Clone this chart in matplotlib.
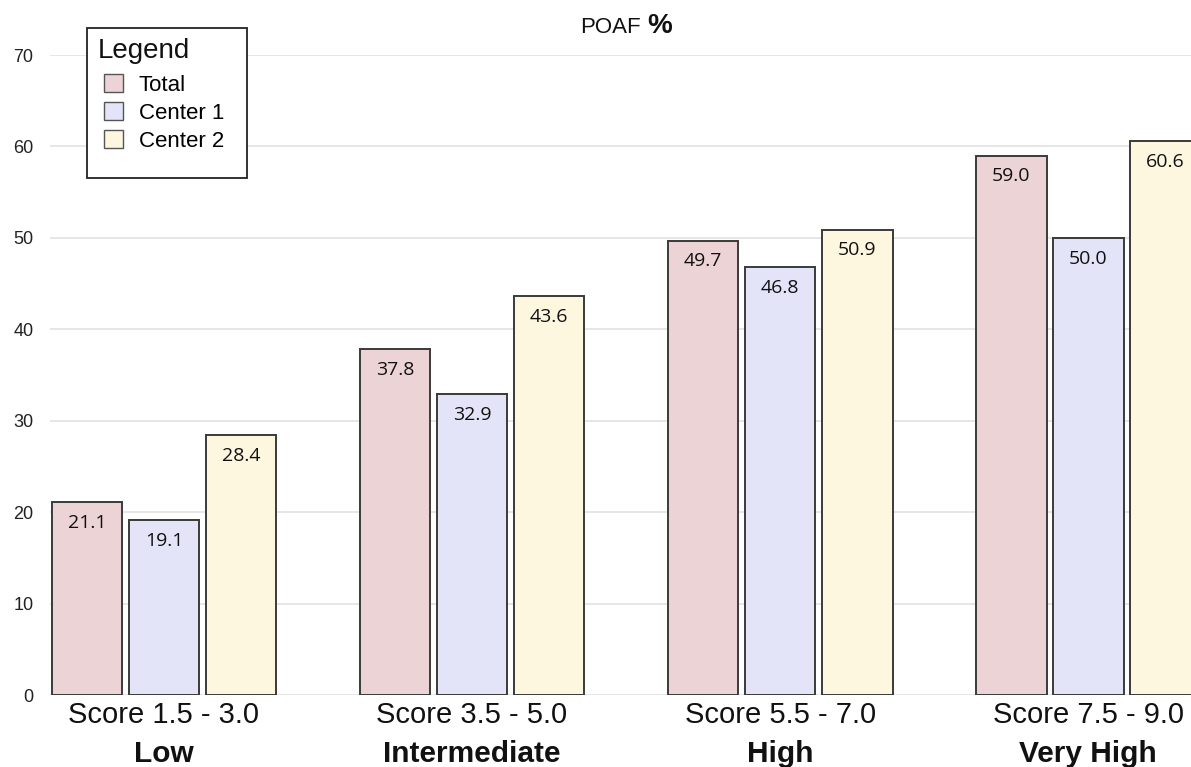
import matplotlib.pyplot as plt
import numpy as np
from matplotlib.patches import Patch, Rectangle

groups = ["Score 1.5 - 3.0", "Score 3.5 - 5.0", "Score 5.5 - 7.0", "Score 7.5 - 9.0"]
risk_levels = ["Low", "Intermediate", "High", "Very High"]
series_names = ["Total", "Center 1", "Center 2"]
total = [21.1, 37.8, 49.7, 59.0]
center1 = [19.1, 32.9, 46.8, 50.0]
center2 = [28.4, 43.6, 50.9, 60.6]
y_ticks = [0, 10, 20, 30, 40, 50, 60, 70]

colors = ["#ebd3d6", "#e3e4f7", "#fdf7e0"]
edge = "#3a3a3a"
W, H = 1191, 767

fig = plt.figure(figsize=(W / 100, H / 100), dpi=100)
ax = fig.add_axes([50 / W, 72 / H, 1141 / W, 640 / H])

x = np.arange(len(groups))
step = 0.25
width = 0.23
series = [total, center1, center2]
for k, (vals, col) in enumerate(zip(series, colors)):
    pos = x + (k - 1) * step
    ax.bar(pos, vals, width=width, color=col, edgecolor=edge, linewidth=1.4, zorder=3)
    for px, v in zip(pos, vals):
        ax.annotate(f"{v:.1f}", (px, v), xytext=(0, -8.5), textcoords="offset points",
                    ha="center", va="top", fontsize=14, family="Open Sans",
                    color="#111111", zorder=4)

ax.set_xlim(-0.37, 3.334)
ax.set_ylim(0, 70)
ax.set_yticks(y_ticks)
ax.set_yticklabels([str(t) for t in y_ticks], fontsize=13, family="Liberation Sans", color="#222222")
ax.tick_params(axis="y", length=0, pad=12)
ax.set_xticks([])
ax.grid(axis="y", color="#e2e2e2", linewidth=1.2, zorder=0)
for s in ax.spines.values():
    s.set_visible(False)

# two-line category labels: score range, then bold risk level
for xi, g, r in zip(x, groups, risk_levels):
    ax.annotate(g, (xi, 0), xycoords=("data", "axes fraction"), xytext=(0, -20.5),
                textcoords="offset points", ha="center", va="baseline",
                fontsize=21, family="Liberation Sans", color="#111111", annotation_clip=False)
    ax.annotate(r, (xi, 0), xycoords=("data", "axes fraction"), xytext=(0, -48.5),
                textcoords="offset points", ha="center", va="baseline",
                fontsize=21.5, fontweight="bold", family="Liberation Sans", color="#111111",
                annotation_clip=False)

# title: "POAF" regular, "%" bold
fig.text(580 / W, 1 - 33 / H, "POAF", ha="left", va="baseline", fontsize=16,
         family="Liberation Sans", color="#111111")
fig.text(647 / W, 1 - 33 / H, "%", ha="left", va="baseline", fontsize=20,
         fontweight="bold", family="Liberation Sans", color="#111111")

# legend box with heading
fig.patches.append(Rectangle((87 / W, 1 - 178 / H), 160 / W, 150 / H, transform=fig.transFigure,
                             facecolor="white", edgecolor="#222222", linewidth=1.3, zorder=5))
fig.text(98 / W, 1 - 58 / H, "Legend", ha="left", va="baseline", fontsize=20,
         family="Liberation Sans", color="#111111", zorder=6)
handles = [Patch(facecolor=c, edgecolor="#555555", linewidth=1.0) for c in colors]
leg = fig.legend(handles, series_names, loc="upper left",
                 bbox_to_anchor=(104 / W, 1 - 74 / H), bbox_transform=fig.transFigure,
                 prop={"family": "Liberation Sans", "size": 16}, frameon=False,
                 handlelength=0.85, handleheight=0.85, handletextpad=0.72, labelspacing=0.3,
                 borderpad=0, borderaxespad=0)
leg.set_zorder(6)

fig.savefig("out.png", dpi=100)
